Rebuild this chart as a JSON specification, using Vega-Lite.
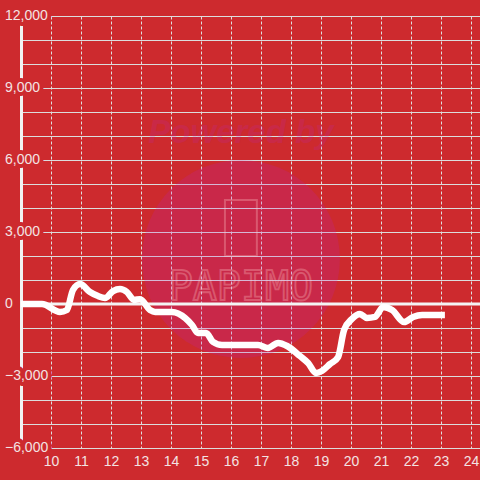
{
  "$schema": "https://vega.github.io/schema/vega-lite/v6.json",
  "autosize": "none",
  "width": 459,
  "height": 432,
  "padding": {"left": 21, "top": 16, "right": 0, "bottom": 32},
  "background": "#cd2a2e",
  "config": {"view": {"stroke": null}, "font": "Liberation Sans"},
  "datasets": {
    "series": [
      {"h": 9.0, "v": 0}, {"h": 9.7, "v": 0}, {"h": 10.3, "v": -330}, {"h": 10.53, "v": -250},
      {"h": 10.73, "v": 580}, {"h": 10.97, "v": 830}, {"h": 11.3, "v": 500}, {"h": 11.57, "v": 330},
      {"h": 11.8, "v": 250}, {"h": 12.07, "v": 540}, {"h": 12.3, "v": 620}, {"h": 12.53, "v": 500},
      {"h": 12.77, "v": 170}, {"h": 12.97, "v": 200}, {"h": 13.3, "v": -250}, {"h": 13.47, "v": -330},
      {"h": 14.03, "v": -330}, {"h": 14.47, "v": -580}, {"h": 14.7, "v": -875}, {"h": 14.9, "v": -1210},
      {"h": 15.17, "v": -1210}, {"h": 15.4, "v": -1580}, {"h": 15.7, "v": -1710}, {"h": 16.9, "v": -1710},
      {"h": 17.23, "v": -1830}, {"h": 17.57, "v": -1625}, {"h": 17.87, "v": -1750}, {"h": 18.3, "v": -2170},
      {"h": 18.57, "v": -2460}, {"h": 18.83, "v": -2875}, {"h": 19.03, "v": -2790}, {"h": 19.3, "v": -2500},
      {"h": 19.57, "v": -2210}, {"h": 19.77, "v": -1080}, {"h": 20.03, "v": -625}, {"h": 20.3, "v": -420},
      {"h": 20.53, "v": -580}, {"h": 20.8, "v": -540}, {"h": 21.07, "v": -125}, {"h": 21.37, "v": -250},
      {"h": 21.77, "v": -750}, {"h": 22.07, "v": -540}, {"h": 22.37, "v": -460}, {"h": 23.13, "v": -460}
    ],
    "ylabels": [
      {"v": 12000}, {"v": 9000}, {"v": 6000}, {"v": 3000}, {"v": 0}, {"v": -3000}, {"v": -6000}
    ],
    "one": [{}]
  },
  "encoding": {
    "x": {"type": "quantitative", "scale": {"domain": [9, 24.3], "nice": false, "zero": false},
      "axis": {"values": [10,11,12,13,14,15,16,17,18,19,20,21,22,23,24], "tickCount": 20, "labelOverlap": false, "grid": true, "gridColor": "#dedede", "gridDash": [3, 2], "gridWidth": 1, "domain": false, "ticks": false, "labelPadding": 6, "labelFontSize": 14, "labelColor": "#f3e3e3", "title": null, "labelFont": "Liberation Sans"}},
    "y": {"type": "quantitative", "scale": {"domain": [-6000, 12000], "nice": false, "zero": false},
      "axis": {"values": [-6000,-5000,-4000,-3000,-2000,-1000,0,1000,2000,3000,4000,5000,6000,7000,8000,9000,10000,11000,12000], "tickCount": 25, "labelOverlap": false, "labels": false, "ticks": false, "grid": true, "gridColor": "#dcdcdc", "gridWidth": 1, "domain": true, "domainColor": "#f2f2f2", "domainWidth": 3, "title": null}}
  },
  "layer": [
    {
      "data": {"name": "one"},
      "mark": {"type": "point", "filled": true, "color": "#b925ba", "opacity": 0.2, "size": 39200},
      "encoding": {"x": {"datum": 16.33}, "y": {"datum": 1875}}
    },
    {
      "data": {"name": "one"},
      "mark": {"type": "text", "text": "Powered by", "font": "Liberation Sans", "fontSize": 33, "fontWeight": "bold", "fontStyle": "italic", "color": "#b925ba", "opacity": 0.18, "align": "center", "baseline": "middle"},
      "encoding": {"x": {"datum": 16.33}, "y": {"datum": 7125}}
    },
    {
      "data": {"name": "one"},
      "mark": {"type": "point", "shape": "M-0.57,-1L0.57,-1L0.57,1L-0.57,1Z", "filled": false, "stroke": "#ffc8c8", "strokeWidth": 2, "size": 3136, "opacity": 0.3},
      "encoding": {"x": {"datum": 16.33}, "y": {"datum": 3167}}
    },
    {
      "data": {"name": "one"},
      "mark": {"type": "text", "text": "PAPIMO", "font": "DejaVu Sans Mono", "fontSize": 40, "fill": null, "stroke": "#ffc8c8", "strokeWidth": 1.8, "opacity": 0.3, "align": "center", "baseline": "middle"},
      "encoding": {"x": {"datum": 16.33}, "y": {"datum": 667}}
    },
    {
      "data": {"name": "one"},
      "mark": {"type": "rule", "color": "#f4f4f4", "strokeWidth": 3},
      "encoding": {"x": null, "y": {"datum": 0}}
    },
    {
      "data": {"name": "series"},
      "mark": {"type": "line", "color": "#ffffff", "strokeWidth": 6.5, "interpolate": "monotone", "strokeJoin": "round", "strokeCap": "butt"},
      "encoding": {
        "x": {"field": "h"},
        "y": {"field": "v"}
      }
    },
    {
      "data": {"name": "ylabels"},
      "mark": {"type": "text", "align": "left", "baseline": "middle", "dx": -16, "fontSize": 14, "font": "Liberation Sans", "color": "#cd2a2e", "stroke": "#cd2a2e", "strokeWidth": 8, "strokeJoin": "round"},
      "encoding": {
        "x": {"datum": 9},
        "y": {"field": "v"},
        "text": {"field": "v", "type": "quantitative", "format": ","}
      }
    },
    {
      "data": {"name": "ylabels"},
      "mark": {"type": "text", "align": "left", "baseline": "middle", "dx": -16, "fontSize": 14, "font": "Liberation Sans", "color": "#f3e3e3"},
      "encoding": {
        "x": {"datum": 9},
        "y": {"field": "v"},
        "text": {"field": "v", "type": "quantitative", "format": ","}
      }
    }
  ]
}
